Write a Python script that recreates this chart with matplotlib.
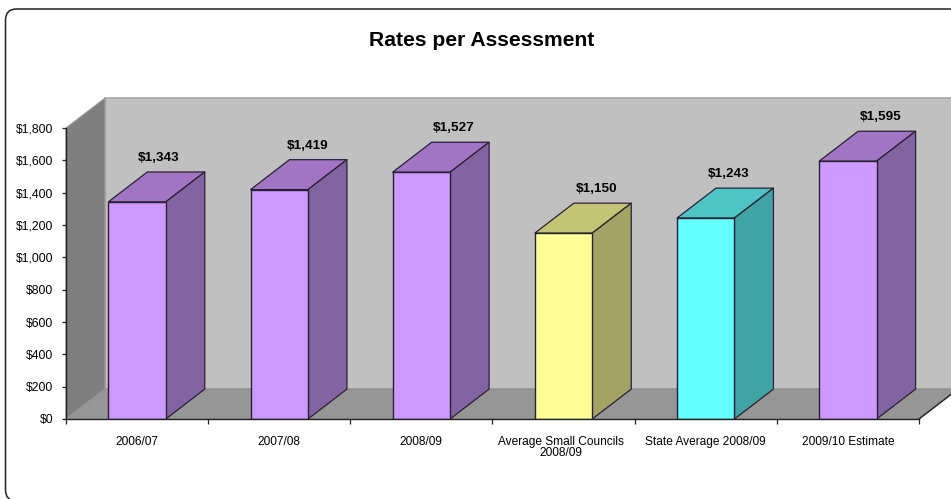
import matplotlib
matplotlib.use("Agg")
import matplotlib.pyplot as plt
from matplotlib.patches import FancyBboxPatch, Polygon

plt.rcParams["font.family"] = "Liberation Sans"

categories = ["2006/07", "2007/08", "2008/09", "Average Small Councils\n2008/09",
              "State Average 2008/09", "2009/10 Estimate"]
values = [1343, 1419, 1527, 1150, 1243, 1595]
y_ticks = [0, 200, 400, 600, 800, 1000, 1200, 1400, 1600, 1800]

# face, top, side
purple = ("#CC99FF", "#A175C4", "#8364A3")
yellow = ("#FFFF99", "#C4C476", "#A3A366")
cyan = ("#66FFFF", "#4FC4C4", "#41A3A3")
bar_colors = [purple, purple, purple, yellow, cyan, purple]

W, H = 951, 499
fig = plt.figure(figsize=(W / 100, H / 100), dpi=100)

# rounded chart border, in pixels (runs off the right and bottom edges)
bg = fig.add_axes([0, 0, 1, 1])
bg.set_xlim(0, W)
bg.set_ylim(H, 0)
bg.axis("off")
bg.add_patch(FancyBboxPatch((5.5, 9), 990, 492,
                            boxstyle="round,pad=0,rounding_size=11",
                            linewidth=1.1, edgecolor="#222222", facecolor="white"))
bg.text(482, 40, "Rates per Assessment", ha="center", va="center",
        fontsize=15.2, fontweight="bold")

# front plane of the 3D box
left, right, top, bottom = 66, 919, 128, 419
ax = fig.add_axes([left / W, 1 - bottom / H, (right - left) / W, (bottom - top) / H])
ax.patch.set_visible(False)
ax.set_xlim(-0.5, 5.5)
ax.set_ylim(0, 1800)

# depth of the box in data units
dx = 0.274
dy = 185
bar_w = 0.404

x0, x1, y0, y1 = -0.5, 5.5, 0, 1800


def face(points, color, edge="none", lw=0.0, z=1):
    ax.add_patch(Polygon(points, closed=True, facecolor=color, edgecolor=edge,
                         linewidth=lw, clip_on=False, zorder=z, joinstyle="round"))


# back wall, floor and side wall
face([(x0 + dx, y0 + dy), (x1 + dx, y0 + dy), (x1 + dx, y1 + dy), (x0 + dx, y1 + dy)],
     "#C0C0C0", "#A6A6A6", 1.2)
face([(x0, y0), (x1, y0), (x1 + dx, y0 + dy), (x0 + dx, y0 + dy)], "#969696", "#8C8C8C", 0.8)
face([(x0, y0), (x0 + dx, y0 + dy), (x0 + dx, y1 + dy), (x0, y1)], "#7F7F7F", "#9A9A9A", 0.8)
ax.plot([x1, x1 + dx], [y0, y0 + dy], color="#222222", lw=1.0, clip_on=False, zorder=2)

edge = "#2A2033"
ax.bar(range(len(values)), values, width=bar_w, color=[c[0] for c in bar_colors],
       edgecolor=edge, linewidth=1.0, zorder=5)

label_nudge = [-0.07, -0.018, 0.01, 0.015, -0.06, 0.008]
for i, (v, c) in enumerate(zip(values, bar_colors)):
    l, r = i - bar_w / 2, i + bar_w / 2
    face([(l, v), (r, v), (r + dx, v + dy), (l + dx, v + dy)], c[1], edge, 0.9, z=4)
    face([(r, 0), (r + dx, dy), (r + dx, v + dy), (r, v)], c[2], edge, 0.9, z=4)
    ax.text(i + dx * 0.8 + label_nudge[i], v + dy + 85, f"${v:,}", ha="center", va="center",
            fontsize=9.7, fontweight="bold", zorder=6)

ax.spines["top"].set_visible(False)
ax.spines["right"].set_visible(False)
for s in ("left", "bottom"):
    ax.spines[s].set_color("#222222")
    ax.spines[s].set_linewidth(1.0)
    ax.spines[s].set_zorder(6)

ax.set_yticks(y_ticks)
ax.set_yticklabels([f"${v:,}" for v in y_ticks], fontsize=8.7)
ax.tick_params(axis="y", length=3.0, width=0.9, pad=6, color="#222222")

# ticks sit between the categories, labels in the middle
ax.set_xticks([i - 0.5 for i in range(len(categories) + 1)])
ax.set_xticklabels([])
label_x = [i - 0.017 if "\n" in c else i for i, c in enumerate(categories)]
ax.set_xticks(label_x, minor=True)
ax.set_xticklabels(categories, minor=True, fontsize=8.6, linespacing=0.95, va="top")
ax.tick_params(axis="x", which="major", length=3.5, width=0.9, color="#222222")
ax.tick_params(axis="x", which="minor", length=0, pad=12)

fig.savefig("out.png", dpi=100)
